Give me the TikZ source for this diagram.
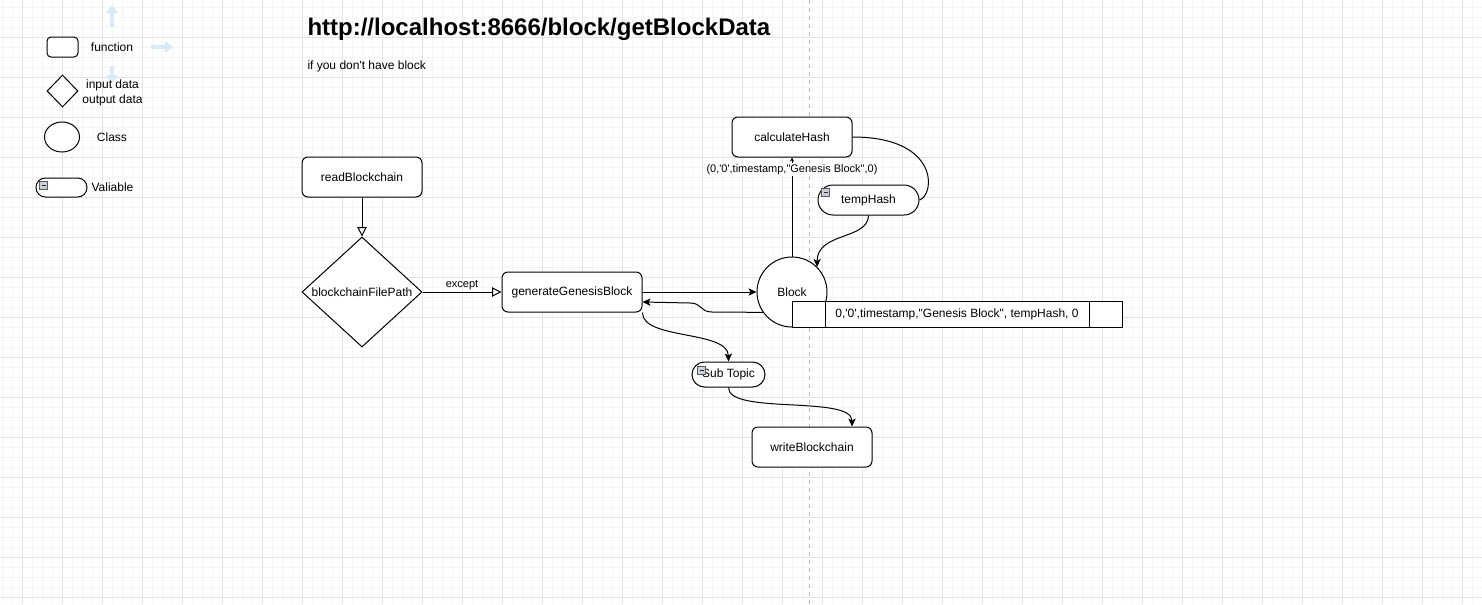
\documentclass[tikz,border=0pt]{standalone}
\usepackage{fontspec}
\setmainfont{Liberation Sans}[Ligatures=TeXOff]
\usetikzlibrary{arrows.meta,shapes.geometric,positioning}

\definecolor{hintblue}{HTML}{D6EBFA}
\definecolor{iconfill}{HTML}{C9CED8}

\tikzset{
  func/.style={draw, fill=white, rounded corners=4.5pt, minimum width=90pt, minimum height=30pt, inner sep=0pt},
  datashape/.style={draw, fill=white, diamond, inner sep=0pt},
  classshape/.style={draw, fill=white, ellipse, inner sep=0pt},
  varpill/.style={draw, fill=white, inner sep=0pt},
  cellbox/.style={draw, fill=white, minimum height=19.5pt, inner sep=0pt, outer sep=0pt},
  lbl/.style={font=\fontsize{8.25}{10}\selectfont, inner sep=1pt},
  hollow/.style={-{Triangle[open,length=7pt,width=7pt]}},
  flow/.style={-{Stealth[length=6pt,width=5.5pt,inset=1.5pt]}},
  tinytip/.style={-{Stealth[length=3pt,width=3pt]}},
  minorgrid/.style={line width=0.75pt, gray!8},
  majorgrid/.style={line width=0.75pt, gray!22},
  pageline/.style={line width=0.75pt, gray!55, dash pattern=on 3pt off 3pt},
  hint/.style={line width=3pt, hintblue, -{Triangle[length=6pt,width=8.5pt]}},
  minusicon/.pic={
    \draw[fill=iconfill, draw=gray!70!black, line width=0.5pt] (0,0) rectangle (8,8);
    \draw[line width=0.8pt, gray!30!black] (2,4) -- (6,4);
  }
}

\begin{document}
\begin{tikzpicture}[x=0.75pt, y=-0.75pt, line width=0.75pt, font=\fontsize{9}{11}\selectfont]
  \useasboundingbox (0,0) rectangle (1482,604);
  % grid
  \foreach \gx in {2,12,...,1482}
    \draw[minorgrid] (\gx,0) -- (\gx,604);
  \foreach \gy in {7,17,...,604}
    \draw[minorgrid] (0,\gy) -- (1482,\gy);
  \foreach \gx in {22,62,...,1482}
    \draw[majorgrid] (\gx,0) -- (\gx,604);
  \foreach \gy in {37,77,...,604}
    \draw[majorgrid] (0,\gy) -- (1482,\gy);
  \draw[pageline] (809,0) -- (809,604);

  % legend
  \draw[hint] (112,27) -- (112,5);
  \draw[hint] (151,47) -- (173,47);
  \draw[hint] (112,66) -- (112,83);
  \node[func, minimum width=23.25pt, minimum height=15pt, rounded corners=3pt] (legfunc) at (62.5,47) {};
  \node (legfunctxt) at (112,47) {function};
  \node[datashape, minimum width=23.25pt, minimum height=24pt] (legdata) at (62.5,91) {};
  \node[align=center, inner sep=0pt] (legdatatxt) at (112.5,93) {input data\\output data};
  \node[classshape, minimum width=26.25pt, minimum height=22.5pt] (legclass) at (62,137) {};
  \node (legclasstxt) at (112,137) {Class};
  \node[varpill, minimum width=38.25pt, minimum height=14.25pt, rounded corners=7pt] (legvar) at (61.5,187.5) {};
  \pic at ([shift={(4,4)}]legvar.north west) {minusicon};
  \node (legvartxt) at (112.5,187.5) {Valiable};

  % title
  \node[anchor=base west, inner sep=0pt, font=\fontsize{18}{22}\selectfont\bfseries] (title) at (307,35) {http://localhost:8666/block/getBlockData};
  \node[anchor=base west, inner sep=0pt] (subtitle) at (307,69) {if you don't have block};

  % flow
  \node[func] (read) at (362,177) {readBlockchain};
  \node[datashape, minimum width=90pt, minimum height=82.5pt, label=center:blockchainFilePath] (path) at (362,292) {};
  \node[func, minimum width=105pt] (gen) at (572,292) {generateGenesisBlock};
  \node[circle, draw, fill=white, minimum size=52.5pt, inner sep=0pt] (block) at (792,292) {Block};
  \node[func] (calc) at (792,137) {calculateHash};
  \node[varpill, minimum width=75.75pt, minimum height=22.5pt, rounded corners=11.25pt] (temp) at (868.5,200) {tempHash};
  \pic at ([shift={(4,4)}]temp.north west) {minusicon};
  \node[varpill, minimum width=54.75pt, minimum height=18.75pt, rounded corners=9.375pt] (sub) at (728.5,374.5) {Sub Topic};
  \pic at ([shift={(6,5)}]sub.north west) {minusicon};
  \node[func] (write) at (812,447) {writeBlockchain};

  % block fields
  \node[cellbox, minimum width=24.75pt, anchor=north west] (cellA) at (792,301) {};
  \node[cellbox, minimum width=198pt, right=0pt of cellA] (cellB) {0,'0',timestamp,"Genesis Block", tempHash, 0};
  \node[cellbox, minimum width=24.75pt, right=0pt of cellB] (cellC) {};

  \draw[hollow] (read) -- (path.north);
  \draw[hollow] (path.east) -- node[lbl, above] {except} (gen.west);
  \draw[flow] (gen.east) -- (block.west);
  \draw[flow] (block.215) -- (712,312) .. controls (700,312) and (702,303) .. (690,303) -- ([yshift=-7.5pt]gen.east);
  \draw[tinytip] (block.north) -- node[lbl, pos=0.88, fill=white] {(0,'0',timestamp,"Genesis Block",0)} (calc.south);
  \draw (calc.east) .. controls (940,137) and (935,195) .. (temp.east);
  \draw[flow] (temp.south) .. controls (868,240) and (817,232) .. (block.45);
  \draw[flow] (gen.south east) .. controls (642,340) and (728,330) .. (sub.north);
  \draw[flow] (sub.south) .. controls (728,415) and (852,395) .. ([xshift=30pt]write.north);
\end{tikzpicture}
\end{document}
